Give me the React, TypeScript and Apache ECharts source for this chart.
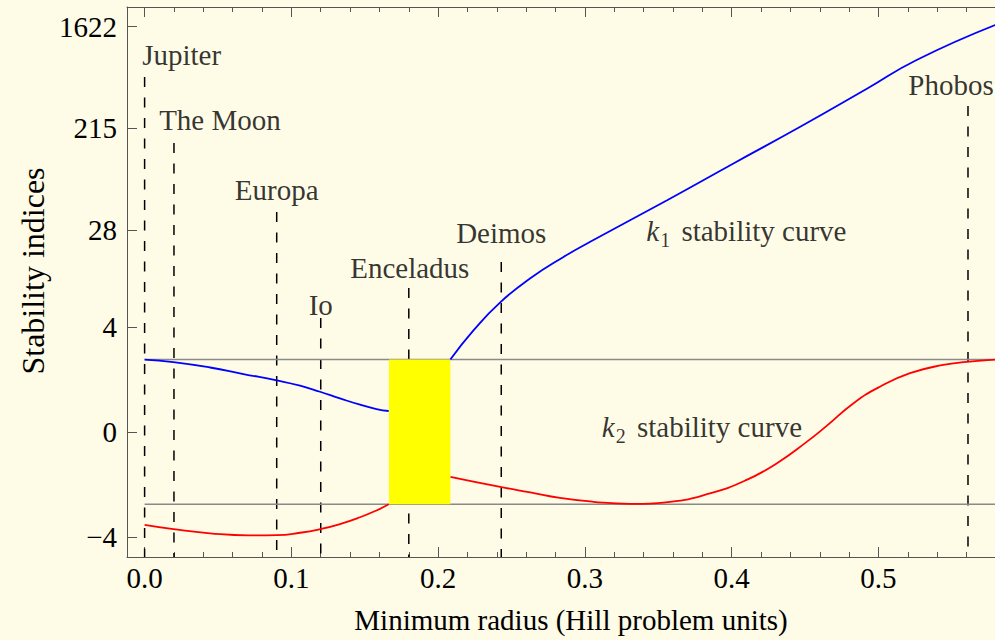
import React, { useEffect, useRef } from "react";
import * as echarts from "echarts";

// The index axis is drawn on an asinh scale: linear near zero, logarithmic for large values.
const T = Math.asinh;

// k1 stability index, inner branch (before the gap) and outer branch (after it)
const k1InnerX = [0, 0.0196, 0.0446, 0.0673, 0.09, 0.1059, 0.1195, 0.1331, 0.1468, 0.158, 0.1663];
const k1InnerY = [2.0, 1.89, 1.67, 1.43, 1.22, 1.06, 0.89, 0.72, 0.57, 0.473, 0.43];
const k1OuterX = [0.2083, 0.2242, 0.2423, 0.2628, 0.2854, 0.3036, 0.356, 0.4012, 0.4467, 0.4921, 0.526, 0.5795];
const k1OuterY = [2.0, 3.74, 6.6, 10.7, 16.4, 22.2, 50.9, 106, 220, 470, 835, 1676];

// k2 stability index, inner and outer branches
const k2InnerX = [0, 0.0196, 0.0446, 0.0709, 0.09, 0.1059, 0.1195, 0.1331, 0.1468, 0.158, 0.1663];
const k2InnerY = [-3.12, -3.41, -3.71, -3.87, -3.85, -3.67, -3.41, -3.06, -2.65, -2.29, -2.0];
const k2OuterX = [0.2083, 0.2423, 0.2628, 0.283, 0.3057, 0.3307, 0.358, 0.3852, 0.4102, 0.4306, 0.4511, 0.4647, 0.4828, 0.501, 0.5215, 0.5441, 0.5601, 0.5794];
const k2OuterY = [-1.02, -1.33, -1.52, -1.73, -1.89, -1.98, -1.89, -1.56, -1.11, -0.67, -0.2, 0.12, 0.6, 1.03, 1.46, 1.77, 1.9, 2.0];

// Radius interval with no stable orbit, and the |k| = 2 stability limits
const gapBand = [0.1665, 0.2083];
const stabilityLimits = [2, -2];

// Bodies marked along the radius axis
const moonNames = ["Jupiter", "The Moon", "Europa", "Io", "Enceladus", "Deimos", "Phobos"];
const moonRadii = [0, 0.02, 0.09, 0.12, 0.18, 0.243, 0.561];

// Tick labels
const yTickValues = [-4, 0, 4, 28, 215, 1622];
const yTickLabels = ["\u22124", "0", "4", "28", "215", "1622"];
const xTickValues = [0, 0.1, 0.2, 0.3, 0.4, 0.5];
const xTickLabels = ["0.0", "0.1", "0.2", "0.3", "0.4", "0.5"];
const xMinorValues = [0.02, 0.04, 0.06, 0.08, 0.12, 0.14, 0.16, 0.18, 0.22, 0.24, 0.26, 0.28, 0.32, 0.34, 0.36, 0.38, 0.42, 0.44, 0.46, 0.48, 0.52, 0.54, 0.56];

// Annotation layout (axis units of the transformed scale, pixel offsets)
const moonLineTop = [7.081, 5.764, 4.388, 2.273, 2.872, 3.39, 6.502];
const moonLabelY = [7.52, 6.223, 4.826, 2.532, 3.271, 3.969, 6.921];
const moonLabelDx = [37, 46, 0, 0, 1, 0, -17];

const X_MIN = -0.012;
const X_MAX = 0.5794;
const Y_MIN = -2.495;
const Y_MAX = 8.477;

const FONT = '"Liberation Serif", "Times New Roman", serif';
const FS = 29;
const AXIS_COLOR = "#555";
const BG = "#FEFBE6";

const zip = (xs: number[], ys: number[]) => xs.map((x, i) => [x, T(ys[i])]);

const nearestLabel = (v: number, values: number[], labels: string[]) => {
  let best = 0;
  for (let i = 1; i < values.length; i++) {
    if (Math.abs(values[i] - v) < Math.abs(values[best] - v)) best = i;
  }
  return labels[best];
};

export default function App() {
  const ref = useRef<HTMLDivElement>(null);

  useEffect(() => {
    if (!ref.current) return;
    const chart = echarts.init(ref.current, null, { renderer: "svg" });

    const yTickT = yTickValues.map(T);

    const xBase = {
      type: "value",
      min: X_MIN,
      max: X_MAX,
      splitLine: { show: false },
    };

    const curve = (data: number[][], color: string) => ({
      type: "line",
      data,
      smooth: 0.5,
      symbol: "none",
      z: 4,
      lineStyle: { color, width: 1.8 },
      silent: true,
    });

    const moonLines = moonNames.map((name, i) => ({
      type: "line",
      name,
      data: [
        [moonRadii[i], moonLineTop[i]],
        [moonRadii[i], Y_MIN],
      ],
      symbol: "none",
      z: 2,
      silent: true,
      lineStyle: { color: "#000", width: 1.5, type: [10, 10.5] },
    }));

    const limitLines = stabilityLimits.map((k) => ({
      type: "line",
      data: [
        [0, T(k)],
        [X_MAX, T(k)],
      ],
      symbol: "none",
      z: 3,
      silent: true,
      lineStyle: { color: "#8a8a8a", width: 1.6 },
    }));

    const option: any = {
      animation: false,
      backgroundColor: BG,
      grid: { left: 127, top: 7, width: 868, height: 550, containLabel: false },
      xAxis: [
        {
          ...xBase,
          position: "bottom",
          axisLine: { show: true, onZero: false, lineStyle: { color: AXIS_COLOR, width: 1 } },
          axisTick: { show: true, inside: true, length: 10, customValues: xTickValues, lineStyle: { color: AXIS_COLOR } },
          axisLabel: {
            show: true,
            customValues: xTickValues,
            formatter: (v: number) => nearestLabel(v, xTickValues, xTickLabels),
            fontFamily: FONT,
            fontSize: FS,
            color: "#000",
            margin: 6,
          },
        },
        {
          ...xBase,
          position: "bottom",
          axisLine: { show: false, onZero: false },
          axisTick: { show: true, inside: true, length: 5, customValues: xMinorValues, lineStyle: { color: AXIS_COLOR } },
          axisLabel: { show: false },
        },
        {
          ...xBase,
          position: "top",
          axisLine: { show: true, onZero: false, lineStyle: { color: AXIS_COLOR, width: 1 } },
          axisTick: { show: true, inside: true, length: 10, customValues: xTickValues, lineStyle: { color: AXIS_COLOR } },
          axisLabel: { show: false },
        },
        {
          ...xBase,
          position: "top",
          axisLine: { show: false, onZero: false },
          axisTick: { show: true, inside: true, length: 5, customValues: xMinorValues, lineStyle: { color: AXIS_COLOR } },
          axisLabel: { show: false },
        },
      ],
      yAxis: {
        type: "value",
        min: Y_MIN,
        max: Y_MAX,
        splitLine: { show: false },
        axisLine: { show: true, onZero: false, lineStyle: { color: AXIS_COLOR, width: 1 } },
        axisTick: { show: true, inside: true, length: 10, customValues: yTickT, lineStyle: { color: AXIS_COLOR } },
        axisLabel: {
          show: true,
          customValues: yTickT,
          formatter: (v: number) => nearestLabel(v, yTickT, yTickLabels),
          fontFamily: FONT,
          fontSize: FS,
          color: "#000",
          margin: 10,
        },
      },
      graphic: [
        {
          type: "text",
          x: 33,
          y: 271,
          rotation: Math.PI / 2,
          style: {
            text: "Stability indices",
            font: `32px ${FONT}`,
            fill: "#000",
            align: "center",
            verticalAlign: "middle",
          },
        },
        {
          type: "text",
          x: 571,
          y: 620,
          style: {
            text: "Minimum radius (Hill problem units)",
            font: `${FS}px ${FONT}`,
            fill: "#000",
            align: "center",
            verticalAlign: "middle",
          },
        },
      ],
      series: [
        ...moonLines,
        ...limitLines,
        curve(zip(k1InnerX, k1InnerY), "#0000FF"),
        curve(zip(k1OuterX, k1OuterY), "#0000FF"),
        curve(zip(k2InnerX, k2InnerY), "#FF0000"),
        curve(zip(k2OuterX, k2OuterY), "#FF0000"),
        {
          type: "custom",
          z: 6,
          silent: true,
          data: [[gapBand[0], gapBand[1], T(stabilityLimits[0]), T(stabilityLimits[1])]],
          renderItem: (_params: any, api: any) => {
            const p0 = api.coord([api.value(0), api.value(2)]);
            const p1 = api.coord([api.value(1), api.value(3)]);
            return {
              type: "rect",
              shape: { x: p0[0], y: p0[1], width: p1[0] - p0[0], height: p1[1] - p0[1] },
              style: { fill: "#FFFF00" },
            };
          },
        },
        {
          type: "scatter",
          symbolSize: 1,
          itemStyle: { color: "rgba(0,0,0,0)" },
          silent: true,
          z: 7,
          data: moonNames.map((n, i) => ({
            name: n,
            value: [moonRadii[i], moonLabelY[i]],
            label: { offset: [moonLabelDx[i], 0] },
          })),
          label: {
            show: true,
            position: "inside",
            formatter: "{b}",
            fontFamily: FONT,
            fontSize: FS,
            color: "#000",
          },
        },
        {
          type: "scatter",
          symbolSize: 1,
          itemStyle: { color: "rgba(0,0,0,0)" },
          silent: true,
          z: 7,
          data: [
            { value: [0.41, 4.009], label: { formatter: "{k|k}{s|1} stability curve" } },
            { value: [0.3797, 0.099], label: { formatter: "{k|k}{s|2} stability curve" } },
          ],
          label: {
            show: true,
            position: "inside",
            fontFamily: FONT,
            fontSize: FS,
            lineHeight: 38,
            color: "#000",
            rich: {
              k: { fontFamily: FONT, fontSize: FS, fontStyle: "italic", color: "#000", lineHeight: 38 },
              s: { fontFamily: FONT, fontSize: 20, color: "#000", verticalAlign: "bottom", lineHeight: 20, padding: [0, 4, 0, 1] },
            },
          },
        },
      ],
    };

    chart.setOption(option);
    return () => chart.dispose();
  }, []);

  return (
    <div
      ref={ref}
      style={{ position: "absolute", left: 0, top: 0, width: 995, height: 640 }}
    />
  );
}
